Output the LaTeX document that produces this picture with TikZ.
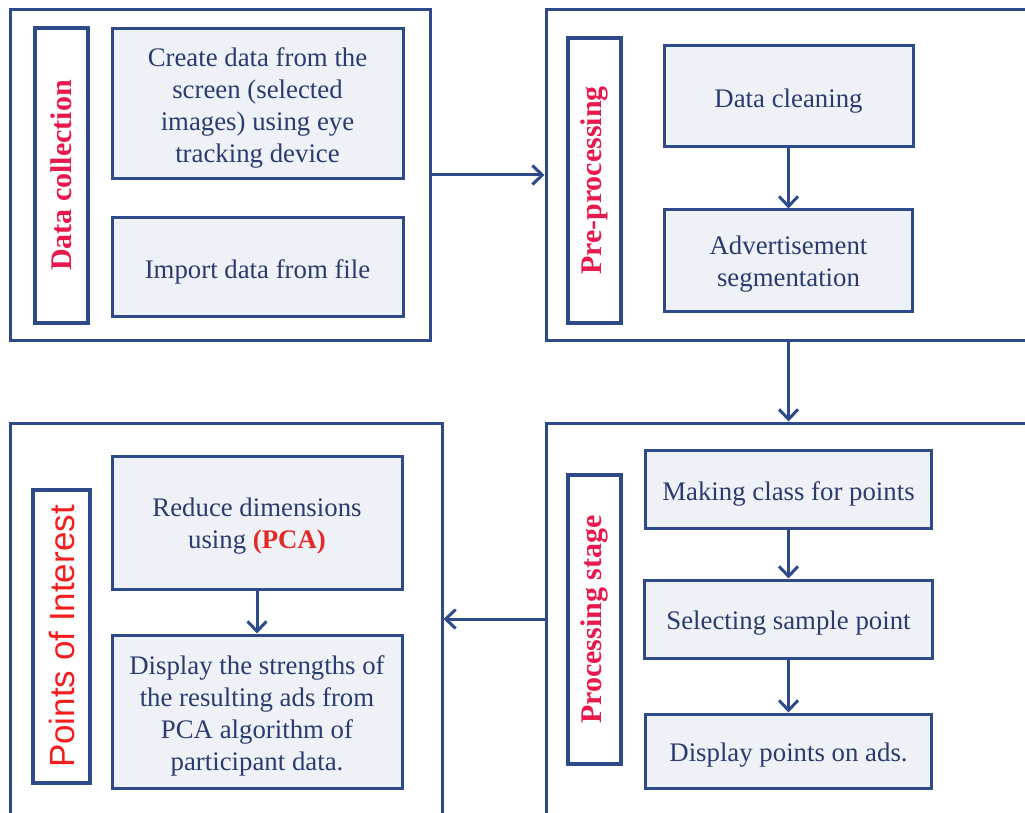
\documentclass[tikz,border=0pt]{standalone}
\usepackage{fontspec}
\setmainfont{Liberation Serif}
\newfontfamily\arialf{Liberation Sans}
\usetikzlibrary{arrows.meta}
\definecolor{navy}{HTML}{2A3B70}
\definecolor{edge}{HTML}{2E4A8A}
\definecolor{boxfill}{HTML}{EEF1F5}
\definecolor{lblred}{HTML}{E8194C}
\definecolor{pcared}{HTML}{E42828}
\definecolor{poired}{HTML}{F51E1E}
\tikzset{
  outer/.style={draw=edge, line width=3pt, fill=white, inner sep=0pt},
  stepbox/.style={draw=edge, line width=3pt, fill=boxfill, inner sep=0pt},
  steptext/.style={text=navy, align=center, inner sep=0pt, font=\fontsize{26.8}{32}\selectfont},
  lab/.style={draw=edge, line width=3.6pt, fill=white, rotate=90, inner sep=0pt,
    text=lblred, font=\fontsize{30}{32}\selectfont\bfseries},
  arr/.style={draw=edge, line width=3pt, -{Straight Barb[length=10pt,width=19pt]}}
}
\begin{document}
\begin{tikzpicture}[x=1pt,y=-1pt]
\clip (0,0) rectangle (1025,813);
\fill[white] (0,0) rectangle (1025,813);
% containers
\node[outer, minimum width=420pt, minimum height=330pt] (c1) at (220,175) {};
\node[outer, minimum width=514pt, minimum height=330pt] (c2) at (803,175) {};
\node[outer, minimum width=432pt, minimum height=417pt] (c3) at (226,631.5) {};
\node[outer, minimum width=514pt, minimum height=417pt] (c4) at (803,631.5) {};
% labels
\node[lab, minimum width=295pt, minimum height=53pt] (l1) at (61.5,175.5) {Data collection};
\node[lab, minimum width=285pt, minimum height=53pt] (l2) at (594.5,180.5) {Pre-processing};
\node[lab, minimum width=293pt, minimum height=57pt, text=poired, font=\fontsize{35}{38}\selectfont\arialf] (l3) at (61.5,636.5) {Points of Interest};
\node[lab, minimum width=289pt, minimum height=53pt] (l4) at (594.5,619.5) {Processing stage};
% stage 1
\node[stepbox, minimum width=291pt, minimum height=150pt] (a1) at (257.5,104) {};
\node[steptext, yshift=-4pt] (a1t) at (a1) {Create data from the\\screen (selected\\images) using eye\\tracking device};
\node[stepbox, minimum width=291pt, minimum height=98pt] (a2) at (257.5,267) {};
\node[steptext, yshift=-5pt] (a2t) at (a2) {Import data from file};
% stage 2
\node[stepbox, minimum width=249pt, minimum height=101pt] (b1) at (788.5,96.5) {};
\node[steptext, yshift=-5pt] (b1t) at (b1) {Data cleaning};
\node[stepbox, minimum width=248pt, minimum height=101pt] (b2) at (788.5,260.5) {};
\node[steptext, yshift=-4pt] (b2t) at (b2) {Advertisement\\segmentation};
% stage 4
\node[stepbox, minimum width=286pt, minimum height=78pt] (d1) at (788.5,489) {};
\node[steptext, yshift=-4.5pt] (d1t) at (d1) {Making class for points};
\node[stepbox, minimum width=288pt, minimum height=78pt] (d2) at (788.5,619) {};
\node[steptext, yshift=-4.5pt] (d2t) at (d2) {Selecting sample point};
\node[stepbox, minimum width=286pt, minimum height=74pt] (d3) at (788.5,751) {};
\node[steptext, yshift=-4pt] (d3t) at (d3) {Display points on ads.};
% stage 3
\node[stepbox, minimum width=290pt, minimum height=133pt] (e1) at (257,522.5) {};
\node[steptext, yshift=-4pt] (e1t) at (e1) {Reduce dimensions\\using {\color{pcared}\bfseries(PCA)}};
\node[stepbox, minimum width=290pt, minimum height=153pt] (e2) at (257,711.5) {};
\node[steptext, yshift=-4pt] (e2t) at (e2) {Display the strengths of\\the resulting ads from\\PCA algorithm of\\participant data.};
% arrows
\draw[arr] (c1.east) -- (c2.west);
\draw[arr] (c2.south -| b2.south) -- (c4.north -| b2.south);
\draw[arr] (c4.west |- d2.center) -- (c3.east |- d2.center);
\draw[arr] (b1.south) -- (b2.north);
\draw[arr] (d1.south) -- (d2.north);
\draw[arr] (d2.south) -- (d3.north);
\draw[arr] (e1.south) -- (e2.north);
\end{tikzpicture}
\end{document}
